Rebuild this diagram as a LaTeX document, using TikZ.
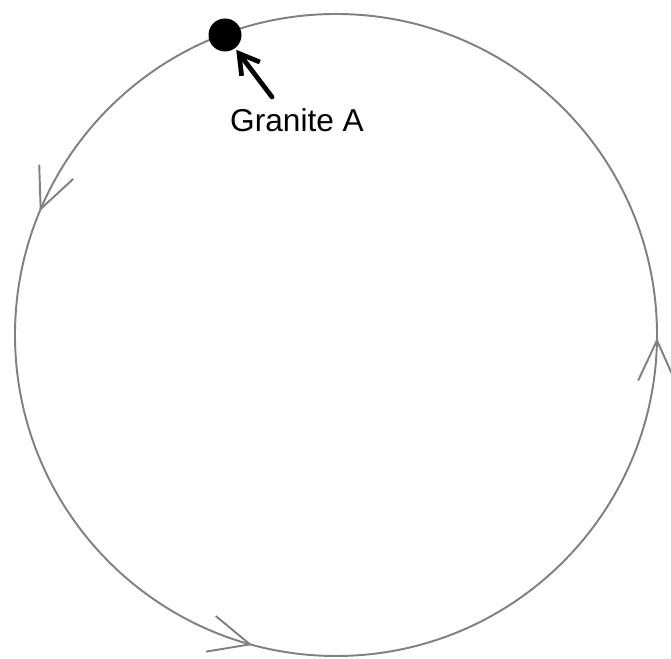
\documentclass[tikz,border=0pt]{standalone}
\usepackage{fontspec}
\setmainfont{Liberation Sans}
\usetikzlibrary{arrows.meta, decorations.markings}
\definecolor{cycleGray}{HTML}{808080}

\begin{document}
\begin{tikzpicture}[x=0.02cm, y=0.02cm,
      loop/.style={draw=cycleGray, line width=1.1pt, line cap=round},
      tipmark/.style={postaction={decorate}, decoration={markings,
          mark=at position 0.437 with {\arrow{Straight Barb[length=23pt, width=21pt]}},
          mark=at position 0.708 with {\arrow{Straight Barb[length=23pt, width=21pt]}},
          mark=at position 0.9985 with {\arrow{Straight Barb[length=23pt, width=21pt]}}}},
      spot/.style={circle, fill=black, minimum size=0.66cm, inner sep=0pt},
      lbl/.style={font=\fontsize{18}{20}\selectfont, inner sep=1pt}]
    \useasboundingbox (0,0) rectangle (671,658);
    % the cycle
    \draw[loop, tipmark] (336,323) circle[radius=321];
    % the rock on the cycle
    \node[spot] (granA) at (225,623) {};
    \node[lbl] (granAlbl) at (297,538) {Granite A};
    \coordinate (granAtail) at (272,561);
    \draw[line width=2.7pt, line cap=round, -{Straight Barb[length=11pt, width=13pt]}, shorten >=1pt]
      (granAtail) -- (granA);
  \end{tikzpicture}
\end{document}
